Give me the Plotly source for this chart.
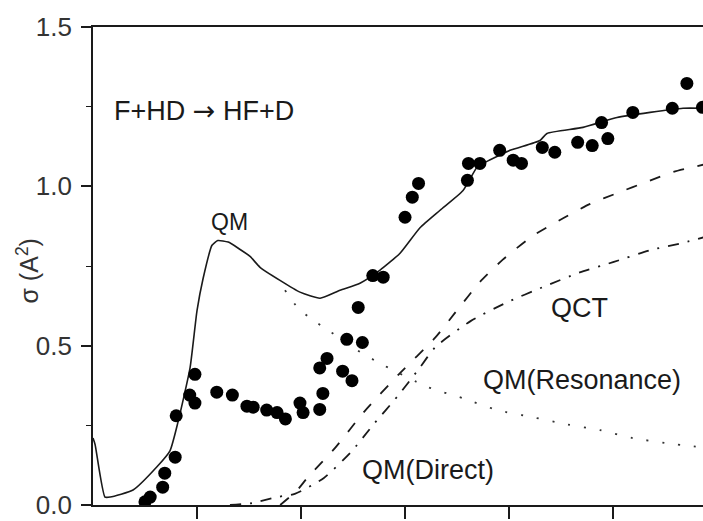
import plotly.graph_objects as go

# QM total cross section (solid line)
qm_x = [0.0, 0.02, 0.115, 0.165, 0.385, 0.615, 0.74, 0.817, 0.933, 1.0, 1.058, 1.144, 1.2, 1.3, 1.4,
        1.51, 1.606, 1.798, 1.99, 2.183, 2.375, 2.567, 2.76, 2.952, 3.144, 3.337, 3.558, 3.692, 3.75,
        4.01, 4.298, 4.365, 4.712, 5.038, 5.356, 5.673, 5.87]
qm_y = [0.21, 0.19, 0.025, 0.025, 0.047, 0.12, 0.17, 0.26, 0.43, 0.61, 0.71, 0.815, 0.83, 0.825, 0.805,
        0.78, 0.746, 0.705, 0.668, 0.649, 0.674, 0.696, 0.737, 0.79, 0.87, 0.925, 0.987, 1.06, 1.072,
        1.113, 1.144, 1.166, 1.185, 1.216, 1.232, 1.245, 1.245]

# QM direct (dashed)
direct_x = [1.8, 1.96, 2.06, 2.33, 2.6, 2.94, 3.29, 3.51, 3.72, 3.94, 4.23, 4.52, 4.78, 5.05, 5.33, 5.58, 5.87]
direct_y = [0.0, 0.045, 0.085, 0.18, 0.29, 0.41, 0.525, 0.615, 0.70, 0.77, 0.845, 0.90, 0.945, 0.98, 1.015, 1.045, 1.068]

# QCT (dash-dot)
qct_x = [1.317, 1.53, 1.77, 1.94, 2.22, 2.48, 2.70, 2.93, 3.14, 3.29, 3.63, 3.98, 4.32, 4.68, 5.0, 5.36, 5.69, 5.87]
qct_y = [0.0, 0.006, 0.025, 0.035, 0.085, 0.166, 0.254, 0.342, 0.43, 0.495, 0.577, 0.636, 0.683, 0.73, 0.762, 0.80, 0.824, 0.84]

# QM resonance (dotted)
res_x = [1.846, 1.971, 2.115, 2.26, 2.47, 2.74, 3.22, 3.558, 3.885, 4.22, 4.538, 4.875, 5.19, 5.52, 5.87]
res_y = [0.674, 0.618, 0.58, 0.549, 0.50, 0.448, 0.37, 0.335, 0.298, 0.276, 0.254, 0.235, 0.21, 0.194, 0.18]

# Experimental points
exp_x = [0.5, 0.55, 0.67, 0.69, 0.79, 0.80, 0.93, 0.98, 0.98, 1.19, 1.34, 1.48, 1.54, 1.67, 1.77, 1.85,
         1.99, 2.02, 2.18, 2.21, 2.18, 2.25, 2.40, 2.49, 2.44, 2.59, 2.55, 2.69, 2.79, 3.0, 3.07, 3.13,
         3.6, 3.61, 3.72, 3.91, 4.04, 4.12, 4.32, 4.44, 4.66, 4.80, 4.95, 4.89, 5.19, 5.57, 5.71, 5.86]
exp_y = [0.01, 0.025, 0.056, 0.10, 0.15, 0.28, 0.345, 0.32, 0.41, 0.354, 0.345, 0.31, 0.307, 0.298, 0.29, 0.27,
         0.32, 0.29, 0.30, 0.35, 0.43, 0.46, 0.42, 0.39, 0.52, 0.51, 0.62, 0.72, 0.715, 0.903, 0.966, 1.009,
         1.019, 1.072, 1.072, 1.113, 1.082, 1.072, 1.122, 1.107, 1.138, 1.128, 1.15, 1.20, 1.232, 1.245, 1.323, 1.248]

y_ticks = [0.0, 0.5, 1.0, 1.5]
y_ticktext = ["0.0", "0.5", "1.0", "1.5"]
x_ticks = [1, 2, 3, 4, 5]

FONT = "Liberation Sans, Arial, sans-serif"
INK = "#1a1a1a"

fig = go.Figure()
fig.add_trace(go.Scatter(x=qm_x, y=qm_y, mode="lines", line=dict(color=INK, width=1.6, shape="spline", smoothing=0.5),
                         showlegend=False))
fig.add_trace(go.Scatter(x=direct_x, y=direct_y, mode="lines", line=dict(color=INK, width=1.8, dash="11px,14px", shape="spline", smoothing=0.6),
                         showlegend=False))
fig.add_trace(go.Scatter(x=qct_x, y=qct_y, mode="lines", line=dict(color=INK, width=1.8, dash="11px,9px,2px,9px", shape="spline", smoothing=0.6),
                         showlegend=False))
fig.add_trace(go.Scatter(x=res_x, y=res_y, mode="lines", line=dict(color="#333", width=1.8, dash="2px,14px", shape="spline", smoothing=0.6),
                         showlegend=False))
fig.add_trace(go.Scatter(x=exp_x, y=exp_y, mode="markers", marker=dict(color="black", size=13, line=dict(width=0)),
                         showlegend=False, cliponaxis=True))

ann_font = dict(family=FONT, size=27, color=INK)
annotations = [
    dict(x=0.183, y=1.238, text="F+HD <span style='font-family:DejaVu Sans'>→</span> HF+D",
         xanchor="left", yanchor="middle", font=ann_font),
    dict(x=1.317, y=0.887, text="QM", xanchor="center", yanchor="middle", font=dict(family=FONT, size=23, color=INK)),
    dict(x=4.68, y=0.618, text="QCT", xanchor="center", yanchor="middle", font=ann_font),
    dict(x=4.70, y=0.392, text="QM(Resonance)", xanchor="center", yanchor="middle", font=ann_font),
    dict(x=3.22, y=0.11, text="QM(Direct)", xanchor="center", yanchor="middle", font=ann_font),
]
for a in annotations:
    a.update(xref="x", yref="y", showarrow=False)
annotations.append(dict(xref="paper", yref="paper", x=-0.107, y=0.49, text="σ (A<sup>2</sup>)", textangle=-90,
                        showarrow=False, xanchor="center", yanchor="middle",
                        font=dict(family=FONT, size=25, color="#333")))

fig.update_layout(
    width=703, height=521,
    margin=dict(l=93, r=0, t=27, b=16),
    paper_bgcolor="white", plot_bgcolor="white",
    annotations=annotations,
    xaxis=dict(range=[0, 5.865], showline=True, linecolor=INK, linewidth=1.6, mirror=True,
               ticks="outside", tickvals=x_ticks, ticklen=12, tickwidth=1.6, tickcolor=INK,
               showticklabels=False, showgrid=False, zeroline=False),
    yaxis=dict(range=[0, 1.5], showline=True, linecolor=INK, linewidth=1.6,
               ticks="outside", tickmode="array", tickvals=y_ticks, ticktext=y_ticktext,
               ticklen=10, tickwidth=1.6, tickcolor=INK, ticklabelstandoff=4,
               tickfont=dict(family=FONT, size=26, color="#333"),
               minor=dict(ticks="outside", ticklen=5, tickvals=[0.25, 0.75, 1.25], tickcolor=INK, tickwidth=1.4),
               showgrid=False, zeroline=False),
)

fig.write_html("out.html")
